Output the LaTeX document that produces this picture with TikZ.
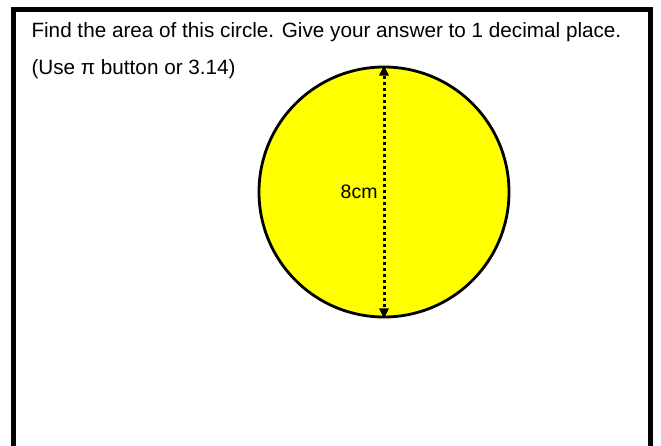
\documentclass[tikz,border=0pt]{standalone}
\usepackage{fontspec}
\setmainfont{Liberation Sans}
\usetikzlibrary{arrows.meta,positioning}

\definecolor{discyellow}{RGB}{255,255,0}
\tikzset{
    qtext/.style={anchor=base west, inner sep=0pt, font=\fontsize{20.7}{24}\selectfont},
}

\begin{document}
\begin{tikzpicture}[x=1pt, y=-1pt, line width=1pt]
    \useasboundingbox (0,0) rectangle (661,446);
    \draw[line width=5.5pt] (13.5,446) -- (13.5,9.5) -- (650.5,9.5) -- (650.5,446);

    \node[qtext] (question) at (31,38) {Find the area of this circle. Give your answer to 1 decimal place.};
    \node[qtext] (hint) at (31,75) {(Use π button or 3.14)};

    \node[circle, draw, fill=discyellow, line width=2.8pt, minimum size=250pt, inner sep=0pt] (circ) at (384,192) {};
    \draw[line width=3pt, dash pattern=on 3pt off 3pt, {Triangle[width=10pt,length=10pt,line width=0pt]}-{Triangle[width=10pt,length=10pt,line width=0pt]}]
        (circ.north) -- (circ.south);
    \node[anchor=east, inner sep=0pt, font=\fontsize{19.5}{23}\selectfont] (diam) at ([xshift=-6pt]circ.center) {8cm};
\end{tikzpicture}
\end{document}
